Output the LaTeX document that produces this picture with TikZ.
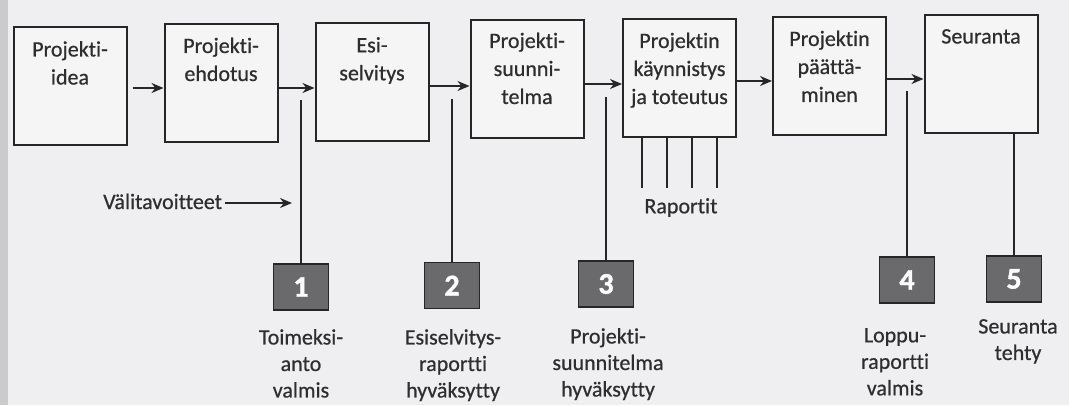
\documentclass[tikz,border=0pt]{standalone}
\usepackage{fontspec}
\setmainfont{Carlito}[Ligatures=NoCommon, FakeBold=0.6, BoldFeatures={FakeBold=1.2}]
\usetikzlibrary{arrows.meta}
\definecolor{bg}{HTML}{EFEFF1}
\definecolor{strip}{HTML}{CBCBCE}
\definecolor{boxfill}{HTML}{F5F5F6}
\definecolor{ink}{HTML}{262626}
\definecolor{txt}{HTML}{2E2E2E}
\definecolor{msfill}{HTML}{6A6A6C}
\tikzset{
  pbox/.style={draw=ink, line width=2pt, fill=boxfill, minimum width=113pt, minimum height=118pt, inner sep=0pt},
  ptext/.style={anchor=north, align=center, inner sep=0pt, text=txt, font=\fontsize{22}{28}\selectfont},
  ctext/.style={anchor=north, align=center, inner sep=0pt, text=txt, font=\fontsize{22}{26.5}\selectfont},
  mstone/.style={draw=ink, line width=1.6pt, fill=msfill, minimum width=55pt, minimum height=46pt, inner sep=0pt, text=white, font=\fontsize{30}{30}\selectfont\bfseries},
  arr/.style={draw=ink, line width=1.4pt, -{Stealth[length=12pt,width=10pt]}},
  vline/.style={draw=ink, line width=1.2pt},
}
\begin{document}
\begin{tikzpicture}[x=1pt,y=-1pt]
\fill[bg] (0,0) rectangle (1069,405);
\fill[strip] (0,0) rectangle (8,405);
\useasboundingbox (0,0) rectangle (1069,405);

% main boxes
\node[pbox] (b1) at (70,86) {};
\node[pbox] (b2) at (221,82.5) {};
\node[pbox] (b3) at (372,82) {};
\node[pbox] (b4) at (527,78.5) {};
\node[pbox] (b5) at (679.5,77.5) {};
\node[pbox] (b6) at (829.5,75.5) {};
\node[pbox] (b7) at (981,74) {};

\node[ptext] (t1) at ([yshift=-15pt]b1.north) {Projekti-\\idea};
\node[ptext] (t2) at ([yshift=-15pt]b2.north) {Projekti-\\ehdotus};
\node[ptext] (t3) at ([yshift=-15pt]b3.north) {Esi-\\selvitys};
\node[ptext] (t4) at ([yshift=-14pt]b4.north) {Projekti-\\suunni-\\telma};
\node[ptext] (t5) at ([yshift=-15pt]b5.north) {Projektin\\käynnistys\\ja toteutus};
\node[ptext] (t6) at ([yshift=-15pt]b6.north) {Projektin\\päättä-\\minen};
\node[ptext] (t7) at ([yshift=-15pt]b7.north) {Seuranta};

% arrows between boxes
\draw[arr] ([shift={(5,2)}]b1.east) -- ([shift={(0,5.5)}]b2.west);
\draw[arr] ([shift={(0,5.5)}]b2.east) -- ([shift={(0,6)}]b3.west);
\draw[arr] ([shift={(0,4)}]b3.east) -- ([shift={(0,7.5)}]b4.west);
\draw[arr] ([shift={(0,5.5)}]b4.east) -- ([shift={(0,6.5)}]b5.west);
\draw[arr] ([shift={(0,3.5)}]b5.east) -- ([shift={(0,5.5)}]b6.west);
\draw[arr] ([shift={(0,3.5)}]b6.east) -- ([shift={(0,5)}]b7.west);

% milestones
\node[mstone] (m1) at (301,287) {1};
\node[mstone] (m2) at (452,285.5) {2};
\node[mstone] (m3) at (606,284) {3};
\node[mstone] (m4) at (907,280) {4};
\node[mstone] (m5) at (1014,279) {5};

\coordinate (v1) at (301,100);
\coordinate (v2) at (452,99);
\coordinate (v3) at (606,97);
\coordinate (v4) at (907,91);
\draw[vline] (v1) -- (m1.north);
\draw[vline] (v2) -- (m2.north);
\draw[vline] (v3) -- (m3.north);
\draw[vline] (v4) -- (m4.north);
\draw[vline] (m5.north |- b7.south) -- (m5.north);

% Raportit
\coordinate (r1) at (642,188);
\coordinate (r2) at (667,188);
\coordinate (r3) at (692,188);
\coordinate (r4) at (717,188);
\foreach \r in {r1,r2,r3,r4} \draw[vline] (\r |- b5.south) -- (\r);
\node[ctext] (rap) at (681,198) {Raportit};

% Valitavoitteet
\node[ctext, anchor=base west] (vt) at (103,209) {Välitavoitteet};
\coordinate (vtend) at (292,203);
\draw[arr] ([xshift=3pt]vt.east |- vtend) -- (vtend);

% captions
\node[ctext] (c1) at (301,329) {Toimeksi-\\anto\\valmis};
\node[ctext] (c2) at (453,329) {Esiselvitys-\\raportti\\hyväksytty};
\node[ctext] (c3) at (608,328) {Projekti-\\suunnitelma\\hyväksytty};
\node[ctext] (c4) at (895,328) {Loppu-\\raportti\\valmis};
\node[ctext] (c5) at (1018,319) {Seuranta\\tehty};
\end{tikzpicture}
\end{document}
